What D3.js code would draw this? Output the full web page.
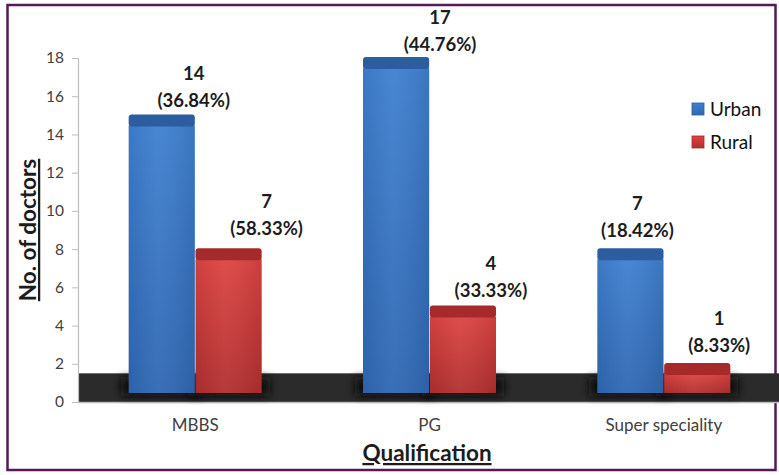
<!DOCTYPE html>
<html>
<head>
<meta charset="utf-8">
<script src="https://cdn.jsdelivr.net/npm/d3@7"></script>
<style>
  html, body { margin: 0; padding: 0; background: #fff; }
  svg { display: block; }
  text { font-family: Lato, "Open Sans", sans-serif; }
</style>
</head>
<body>
<svg id="chart" width="779" height="475"></svg>
<script>
// Doctors by qualification, urban vs rural
const categories = ["MBBS", "PG", "Super speciality"];
const seriesNames = ["Urban", "Rural"];
const urbanCounts = [14, 17, 7];
const ruralCounts = [7, 4, 1];
const urbanShares = ["36.84%", "44.76%", "18.42%"];
const ruralShares = ["58.33%", "33.33%", "8.33%"];
const yTickValues = [0, 2, 4, 6, 8, 10, 12, 14, 16, 18];

const svg = d3.select("#chart");
const W = 779, H = 475;

// plot frame
const plot = { left: 78, right: 781, top: 58, bottom: 402 };
const depthFront = 9;   // front face lifted above the floor line
const depthTop = 11;    // visible height of the bar's top face
const floorTop = 1.5;   // floor thickness in value units

const palette = {
  Urban: { top: "#2c5d9f", light: "#3f80d0", dark: "#2f68b2" },
  Rural: { top: "#a62a2a", light: "#dc4442", dark: "#b22f2f" }
};

const rows = categories.map((c, i) => ({
  category: c,
  values: [
    { series: "Urban", value: urbanCounts[i], share: urbanShares[i] },
    { series: "Rural", value: ruralCounts[i], share: ruralShares[i] }
  ]
}));

// label nudges (horizontal offset from bar centre, gap above bar top)
const labelNudge = {
  Urban: [{ dx: 32, gap: 7 }, { dx: 44, gap: 6 }, { dx: 7, gap: 11 }],
  Rural: [{ dx: 38, gap: 13 }, { dx: 28, gap: 9 }, { dx: 22, gap: 11 }]
};

const x0 = d3.scaleBand().domain(categories).range([plot.left, plot.right]).padding(0);
const groupW = 133;
const x1 = d3.scaleBand().domain(seriesNames)
  .range([(x0.bandwidth() - groupW) / 2, (x0.bandwidth() + groupW) / 2])
  .paddingInner(0.01);
const y = d3.scaleLinear().domain([0, 18]).range([plot.bottom, plot.top]);

const defs = svg.append("defs");
seriesNames.forEach(s => {
  const g = defs.append("linearGradient").attr("id", "grad-" + s)
    .attr("x1", 0).attr("y1", 0).attr("x2", 0).attr("y2", 1);
  g.append("stop").attr("offset", "0%").attr("stop-color", palette[s].light);
  g.append("stop").attr("offset", "100%").attr("stop-color", palette[s].dark);
  const h = defs.append("linearGradient").attr("id", "sheen-" + s)
    .attr("x1", 0).attr("y1", 0).attr("x2", 1).attr("y2", 0);
  h.append("stop").attr("offset", "0%").attr("stop-color", "#000").attr("stop-opacity", 0.06);
  h.append("stop").attr("offset", "45%").attr("stop-color", "#fff").attr("stop-opacity", 0.05);
  h.append("stop").attr("offset", "100%").attr("stop-color", "#000").attr("stop-opacity", 0.08);
});
defs.append("filter").attr("id", "soft").attr("x", "-50%").attr("y", "-50%")
  .attr("width", "200%").attr("height", "200%")
  .append("feGaussianBlur").attr("stdDeviation", 4);

// outer frame
svg.append("rect").attr("x", 7.5).attr("y", 5).attr("width", 768).attr("height", 465)
  .attr("fill", "#fff").attr("stroke", "#561858").attr("stroke-width", 2.5);

// floor
svg.append("rect")
  .attr("x", plot.left).attr("y", y(floorTop))
  .attr("width", W - plot.left).attr("height", y(0) - y(floorTop))
  .attr("fill", "#2b2b2b");
svg.append("line")
  .attr("x1", plot.left).attr("x2", W)
  .attr("y1", y(0) + 0.5).attr("y2", y(0) + 0.5)
  .attr("stroke", "#bdbdbd").attr("stroke-width", 1.5);

// y axis
const yAxis = d3.axisLeft(y).tickValues(yTickValues).tickSize(6).tickPadding(8);
const ya = svg.append("g").attr("transform", `translate(${plot.left},0)`).call(yAxis);
ya.select(".domain").attr("stroke", "#bdbdbd").attr("stroke-width", 1.2);
ya.selectAll(".tick line").attr("stroke", "#bdbdbd");
ya.selectAll(".tick text").attr("fill", "#404040").attr("font-size", 15.5)
  .attr("font-family", "Lato, sans-serif");

// bar groups
const groups = svg.append("g").selectAll("g").data(rows).join("g")
  .attr("transform", d => `translate(${x0(d.category)},0)`);

// floor shadows behind bars
groups.selectAll("rect.shadow").data(d => d.values).join("rect")
  .attr("class", "shadow")
  .attr("x", d => x1(d.series) - 8)
  .attr("width", x1.bandwidth() + 16)
  .attr("y", y(floorTop) + 4)
  .attr("height", y(0) - y(floorTop) - 10)
  .attr("fill", "#0d0d0d")
  .attr("filter", "url(#soft)");

// front faces
groups.selectAll("rect.front").data(d => d.values).join("rect")
  .attr("class", "front")
  .attr("x", d => x1(d.series))
  .attr("width", x1.bandwidth())
  .attr("y", d => y(d.value) - depthFront)
  .attr("height", d => y(0) - y(d.value))
  .attr("fill", d => `url(#grad-${d.series})`);
groups.selectAll("rect.sheen").data(d => d.values).join("rect")
  .attr("class", "sheen")
  .attr("x", d => x1(d.series))
  .attr("width", x1.bandwidth())
  .attr("y", d => y(d.value) - depthFront)
  .attr("height", d => y(0) - y(d.value))
  .attr("fill", d => `url(#sheen-${d.series})`);

// top faces
groups.selectAll("rect.cap").data(d => d.values).join("rect")
  .attr("class", "cap")
  .attr("x", d => x1(d.series))
  .attr("width", x1.bandwidth())
  .attr("y", d => y(d.value) - depthFront - depthTop)
  .attr("height", depthTop + 1)
  .attr("rx", 3)
  .attr("fill", d => palette[d.series].top);

// value labels
groups.each(function (row, ci) {
  const g = d3.select(this);
  row.values.forEach(d => {
    const nudge = labelNudge[d.series][ci];
    const cx = x1(d.series) + x1.bandwidth() / 2 + nudge.dx;
    const base = y(d.value) - depthFront - depthTop - nudge.gap;
    g.append("text").attr("x", cx).attr("y", base - 27)
      .attr("text-anchor", "middle").attr("font-size", 18.5).attr("font-weight", 700)
      .attr("fill", "#1c1c1c").text(d.value);
    g.append("text").attr("x", cx).attr("y", base)
      .attr("text-anchor", "middle").attr("font-size", 18.5).attr("font-weight", 700)
      .attr("fill", "#1c1c1c").text(`(${d.share})`);
  });
});

// category labels
svg.append("g").selectAll("text").data(categories).join("text")
  .attr("x", d => x0(d) + x0.bandwidth() / 2)
  .attr("y", 431)
  .attr("text-anchor", "middle")
  .attr("font-size", 17).attr("fill", "#404040")
  .text(d => d);

// axis titles
svg.append("text").attr("x", 427).attr("y", 461)
  .attr("text-anchor", "middle").attr("font-size", 22.5).attr("font-weight", 700)
  .attr("fill", "#1c1c1c").attr("text-decoration", "underline")
  .text("Qualification");
svg.append("text")
  .attr("transform", "translate(36,230) rotate(-90)")
  .attr("text-anchor", "middle").attr("font-size", 22.5).attr("font-weight", 700)
  .attr("fill", "#1c1c1c").attr("text-decoration", "underline")
  .text("No. of doctors");

// legend
const legend = svg.append("g").selectAll("g").data(seriesNames).join("g")
  .attr("transform", (d, i) => `translate(692,${103 + i * 33})`);
legend.append("rect").attr("width", 12).attr("height", 12)
  .attr("fill", d => `url(#grad-${d})`)
  .attr("stroke", d => palette[d].top).attr("stroke-width", 0.8);
legend.append("text").attr("x", 18).attr("y", 12.5)
  .attr("font-size", 19).attr("fill", "#111")
  .text(d => d);
</script>
</body>
</html>
